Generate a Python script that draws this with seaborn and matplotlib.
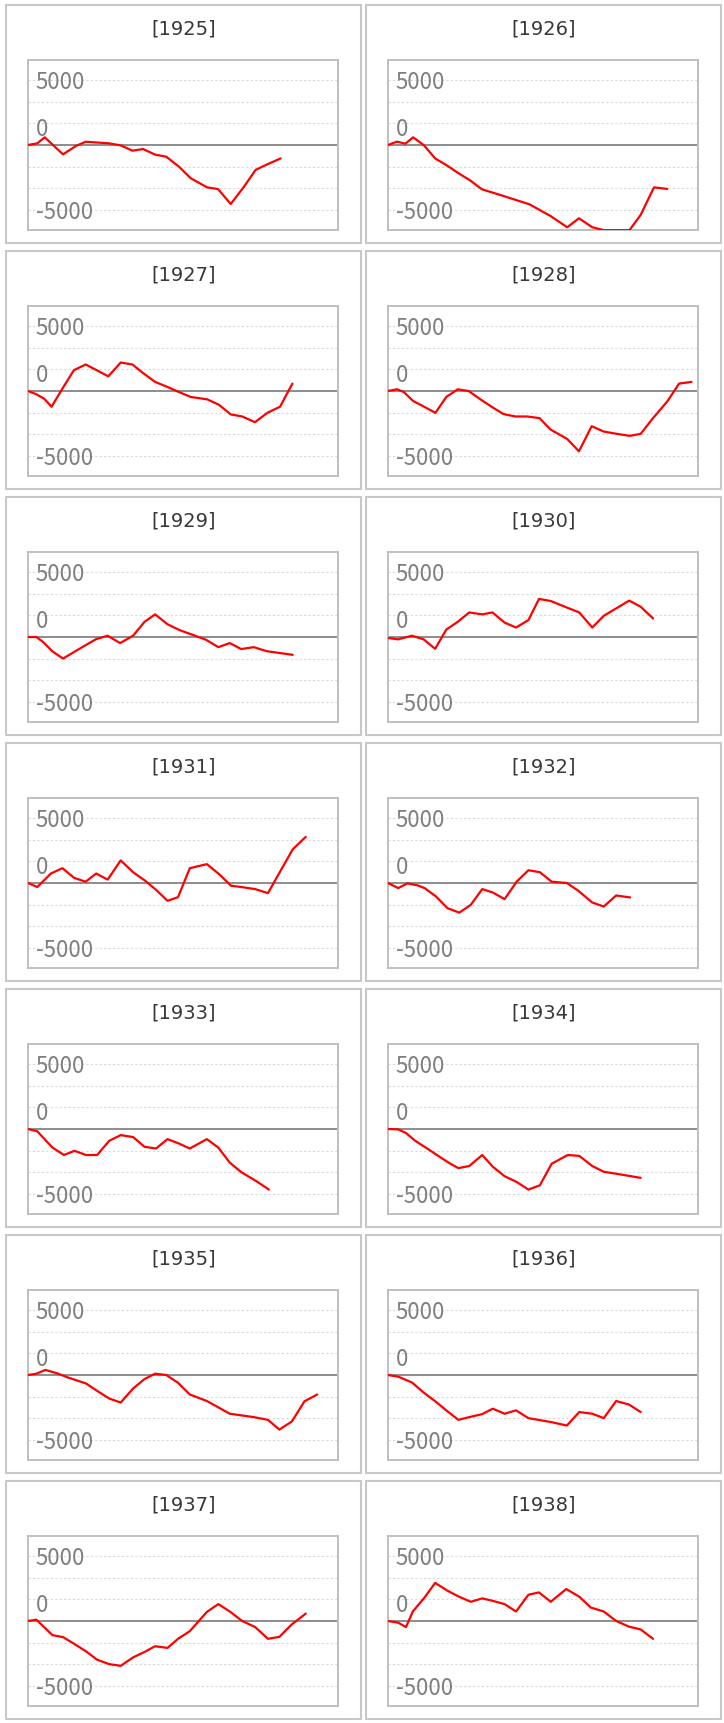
import pandas as pd
import seaborn as sns
import matplotlib.pyplot as plt
import matplotlib.transforms as mtransforms
from matplotlib.patches import Rectangle

sns.set_style('white')
plt.rcParams['font.family'] = ['DejaVu Sans']

years = [1925, 1926, 1927, 1928, 1929, 1930, 1931, 1932, 1933, 1934, 1935, 1936, 1937, 1938]

# values (x as % of the plot width)
x_1925 = [0, 3.0, 5.4, 11.3, 15.4, 18.6, 22.9, 26.1, 29.9, 33.7, 37.1, 41.0, 44.6, 48.7, 52.5, 57.8, 61.3, 65.4, 69.7, 73.4, 76.7, 81.5]
y_1925 = [0, 130, 590, -720, -80, 250, 180, 130, -30, -440, -310, -740, -900, -1670, -2560, -3260, -3390, -4540, -3200, -1920, -1540, -1030]

x_1926 = [0, 2.9, 5.6, 8.1, 11.5, 15.3, 18.8, 22.8, 26.6, 30.3, 36.3, 40.6, 45.6, 52.4, 57.8, 61.6, 65.9, 69.6, 77.9, 81.5, 85.8, 90.1]
y_1926 = [0, 260, 100, 590, 0, -1050, -1540, -2180, -2740, -3410, -3850, -4180, -4560, -5460, -6330, -5640, -6330, -6550, -6550, -5380, -3260, -3380]

x_1927 = [0, 2.5, 5.2, 7.6, 11.1, 14.8, 18.6, 22.4, 25.9, 29.9, 33.7, 36.9, 41.0, 45.0, 48.7, 52.5, 57.8, 61.6, 65.4, 69.1, 73.2, 77.2, 81.3, 85.3]
y_1927 = [0, -230, -590, -1210, 180, 1600, 2040, 1570, 1130, 2190, 2040, 1420, 700, 310, -80, -460, -640, -1060, -1800, -1960, -2400, -1680, -1210, 570]

x_1928 = [0, 2.9, 5.1, 8.1, 11.5, 15.3, 18.8, 22.5, 26.0, 29.8, 33.6, 37.3, 41.1, 44.9, 48.9, 52.4, 57.8, 61.6, 65.7, 69.6, 73.9, 78.0, 81.5, 85.3, 90.1, 93.9, 97.9]
y_1928 = [0, 130, -80, -770, -1190, -1680, -460, 130, 0, -640, -1240, -1780, -1960, -1960, -2090, -2960, -3690, -4640, -2710, -3120, -3300, -3450, -3300, -2140, -800, 570, 700]

x_1929 = [0, 2.7, 4.9, 7.9, 11.3, 15.3, 19.0, 22.0, 25.7, 29.7, 33.9, 37.6, 41.0, 45.0, 49.0, 53.2, 57.4, 61.4, 65.1, 68.8, 72.8, 77.0, 81.4, 85.4]
y_1929 = [0, 0, -390, -1110, -1660, -1090, -570, -160, 100, -470, 100, 1170, 1740, 980, 520, 160, -210, -780, -470, -930, -780, -1090, -1240, -1370]

x_1930 = [0, 3.3, 7.7, 11.5, 15.2, 18.8, 22.5, 26.2, 30.4, 33.7, 37.6, 41.3, 45.3, 48.7, 52.5, 56.5, 61.7, 65.9, 69.6, 73.6, 77.8, 81.5, 85.5]
y_1930 = [-80, -180, 100, -180, -910, 570, 1170, 1890, 1740, 1890, 1110, 730, 1300, 2930, 2770, 2380, 1890, 730, 1630, 2200, 2800, 2330, 1430]

x_1931 = [0, 3.0, 7.4, 11.1, 14.9, 18.6, 22.0, 25.7, 29.9, 33.9, 37.6, 41.3, 45.0, 48.4, 52.2, 57.7, 61.8, 65.5, 68.8, 73.3, 77.4, 81.4, 85.4, 89.6]
y_1931 = [0, -310, 730, 1140, 390, 100, 730, 260, 1740, 830, 210, -520, -1370, -1090, 1140, 1450, 650, -210, -310, -470, -780, 910, 2590, 3550]

x_1932 = [0, 3.3, 6.3, 9.5, 11.8, 15.5, 19.2, 23.0, 26.7, 30.4, 33.8, 37.6, 41.6, 45.3, 49.0, 52.8, 57.7, 61.4, 65.9, 69.6, 73.6, 78.1]
y_1932 = [0, -390, -30, -180, -390, -1040, -1940, -2280, -1680, -470, -730, -1240, 130, 980, 830, 100, 0, -600, -1500, -1810, -960, -1110]

x_1933 = [0, 3.0, 7.9, 11.6, 15.0, 18.7, 22.3, 26.2, 29.9, 33.9, 37.6, 41.3, 45.0, 48.4, 52.2, 57.7, 61.4, 65.1, 68.8, 73.7, 77.7]
y_1933 = [0, -180, -1430, -2000, -1680, -2000, -2000, -910, -470, -620, -1370, -1500, -780, -1090, -1500, -780, -1430, -2590, -3320, -4020, -4660]

x_1934 = [0, 3.3, 5.8, 8.8, 12.5, 16.2, 19.9, 22.7, 26.2, 30.4, 33.8, 37.6, 41.6, 45.3, 49.0, 52.8, 58.0, 61.7, 65.9, 69.6, 75.1, 81.5]
y_1934 = [0, -30, -310, -910, -1480, -2070, -2640, -3010, -2850, -2000, -2900, -3630, -4090, -4660, -4330, -2670, -2000, -2070, -2850, -3290, -3500, -3760]

x_1935 = [0, 2.7, 5.6, 9.4, 13.1, 18.7, 22.3, 26.2, 29.9, 33.9, 37.6, 41.0, 44.6, 48.4, 52.2, 57.7, 65.1, 72.8, 77.4, 81.1, 85.1, 89.2, 93.3]
y_1935 = [0, 100, 390, 130, -210, -650, -1220, -1810, -2120, -1040, -310, 100, 0, -600, -1500, -2000, -2980, -3240, -3450, -4200, -3580, -2020, -1500]

x_1936 = [0, 3.3, 7.7, 11.5, 15.5, 19.2, 22.7, 26.2, 30.4, 33.8, 37.6, 41.3, 45.3, 52.8, 57.7, 61.7, 65.9, 69.6, 73.6, 77.8, 81.5]
y_1936 = [0, -130, -570, -1350, -2070, -2800, -3450, -3240, -3010, -2590, -2980, -2720, -3320, -3630, -3890, -2850, -2980, -3320, -2000, -2280, -2850]

x_1937 = [0, 2.7, 7.9, 11.3, 14.9, 18.7, 22.3, 26.2, 29.9, 33.9, 37.6, 41.0, 45.0, 48.4, 52.2, 57.7, 61.4, 65.1, 69.1, 73.3, 77.4, 81.1, 85.1, 89.6]
y_1937 = [0, 100, -1090, -1240, -1760, -2330, -2980, -3320, -3450, -2800, -2380, -1940, -2070, -1370, -780, 700, 1300, 730, 0, -470, -1370, -1220, -260, 570]

x_1938 = [0, 3.3, 5.8, 8.0, 11.8, 15.2, 19.2, 22.7, 26.7, 30.4, 33.8, 37.6, 41.3, 45.3, 48.7, 52.5, 57.5, 61.7, 65.4, 69.6, 73.6, 77.8, 81.5, 85.5]
y_1938 = [0, -130, -470, 730, 1810, 2930, 2330, 1890, 1480, 1740, 1550, 1300, 730, 2020, 2200, 1480, 2460, 1870, 1040, 730, 0, -440, -650, -1370]

tick_labels = ['5000', '0', '-5000']
tick_values = [5000, 0, -5000]
grid_values = [-5000, -3333.3, -1666.7, 1666.7, 3333.3, 5000]

W, H = 724, 1723
fig = plt.figure(figsize=(W / 100, H / 100), dpi=100)

def fx(px):
    return px / W

def fy(py):
    return 1 - py / H

for i, year in enumerate(years):
    row, col = divmod(i, 2)
    bx = 6 if col == 0 else 366
    by = 5 + 246 * row
    bw, bh = 355, 238

    # panel frame
    fig.patches.append(Rectangle((fx(bx), fy(by + bh)), bw / W, bh / H,
                                 transform=fig.transFigure, facecolor='none',
                                 edgecolor='#c8c8c8', linewidth=1.5, zorder=-1))
    fig.text(fx(bx + bw / 2), fy(by + 24), '[%d]' % year, ha='center', va='center',
             fontsize=14, color='#383838')

    ax = fig.add_axes([fx(bx + 22), fy(by + 225), 310 / W, 170 / H])
    ax.set_facecolor('none')
    df = pd.DataFrame({'x': globals()['x_%d' % year], 'y': globals()['y_%d' % year]})

    ax.axhline(0, color='#8c8c8c', linewidth=1.4, zorder=1)
    sns.lineplot(data=df, x='x', y='y', ax=ax, color='#ff0000', linewidth=1.6,
                 sort=False, estimator=None, zorder=3)

    ax.set_xlim(0, 100)
    ax.set_ylim(-6540, 6540)
    ax.set_xticks([])
    ax.set_yticks(grid_values)
    ax.set_yticklabels([])
    ax.tick_params(length=0)
    ax.yaxis.grid(True, color='#d9d9d9', linestyle=(0, (2, 2)), linewidth=0.8)
    ax.set_xlabel('')
    ax.set_ylabel('')
    for s in ax.spines.values():
        s.set_color('#bfbfbf')
        s.set_linewidth(1.4)

    trans = mtransforms.blended_transform_factory(ax.transAxes, ax.transData)
    for lab, val in zip(tick_labels, tick_values):
        t = trans
        if val == 0:
            t = trans + mtransforms.ScaledTranslation(0, 0.185, fig.dpi_scale_trans)
        ax.text(0.025, val, lab, transform=t, ha='left', va='center_baseline',
                fontsize=16, color='#7f7f7f', zorder=2,
                family=['Noto Sans CJK JP', 'DejaVu Sans'])

fig.savefig('out.png', dpi=100)
